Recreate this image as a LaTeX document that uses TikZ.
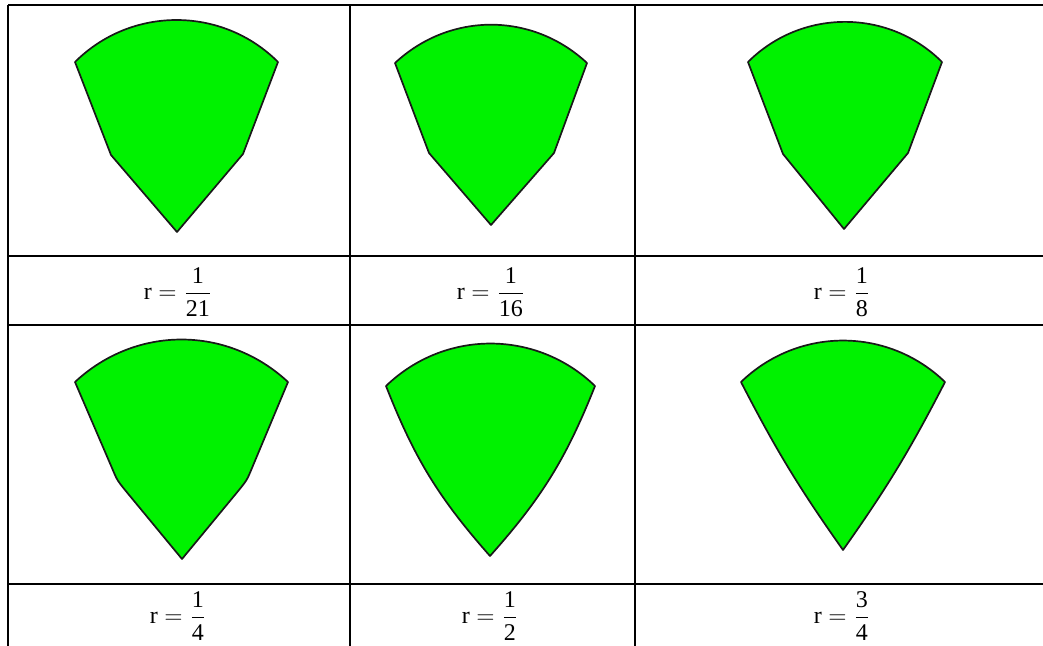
\documentclass[tikz,border=0pt]{standalone}
\usepackage{amsmath}
\usepackage{fontspec}
\setmainfont{Liberation Serif}
\definecolor{leafgreen}{RGB}{0,242,0}
\definecolor{edgegray}{RGB}{25,25,25}
\begin{document}
\begin{tikzpicture}[x=0.5pt,y=0.5pt,
  gridline/.style={line width=1pt,black},
  leaf/.style={fill=leafgreen,draw=edgegray,line width=0.85pt,line join=round},
  lbl/.style={inner sep=0pt,font=\fontsize{12}{14}\selectfont}]
\useasboundingbox (0,0) rectangle (1043,-646);
\fill[white] (0,0) rectangle (1043,-646);
% table grid
\draw[gridline] (8,-5) -- (1043,-5);
\draw[gridline] (8,-256) -- (1043,-256);
\draw[gridline] (8,-325) -- (1043,-325);
\draw[gridline] (8,-584) -- (1043,-584);
\draw[gridline] (8,-5) -- (8,-646);
\draw[gridline] (350,-5) -- (350,-646);
\draw[gridline] (635,-5) -- (635,-646);
% shapes, row 1
\draw[leaf] (75,-62) -- (111,-155) -- (177,-232) -- (243,-154) -- (278,-62)
  to[bend right=45] (75,-62) -- cycle;
\draw[leaf] (395,-63) -- (429,-153) -- (491,-225) -- (554,-153) -- (587,-63)
  to[bend right=43] (395,-63) -- cycle;
\draw[leaf] (748,-62) -- (783,-154) -- (844,-229) -- (908,-153) -- (942,-62)
  to[bend right=45] (748,-62) -- cycle;
% shapes, row 2
\draw[leaf] (75,-382) -- (112,-468) .. controls (117,-480) .. (125,-490) -- (182,-559)
  -- (239,-490) .. controls (247,-480) .. (252,-468) -- (288,-382)
  to[bend right=43] (75,-382) -- cycle;
\draw[leaf] (386,-386) to[bend right=10] (490,-556) to[bend right=10] (595,-386)
  to[bend right=44] (386,-386) -- cycle;
\draw[leaf] (741,-382) to[bend right=4] (843,-550) to[bend right=4] (945,-382)
  to[bend right=44] (741,-382) -- cycle;
% labels
\node[lbl] (l1) at (178,-292) {$\text{r} = \displaystyle\frac{\text{1}}{\text{21}}$};
\node[lbl] (l2) at (491,-292) {$\text{r} = \displaystyle\frac{\text{1}}{\text{16}}$};
\node[lbl] (l3) at (842,-292) {$\text{r} = \displaystyle\frac{\text{1}}{\text{8}}$};
\node[lbl] (l4) at (178,-616) {$\text{r} = \displaystyle\frac{\text{1}}{\text{4}}$};
\node[lbl] (l5) at (490,-616) {$\text{r} = \displaystyle\frac{\text{1}}{\text{2}}$};
\node[lbl] (l6) at (842,-616) {$\text{r} = \displaystyle\frac{\text{3}}{\text{4}}$};
\end{tikzpicture}
\end{document}
